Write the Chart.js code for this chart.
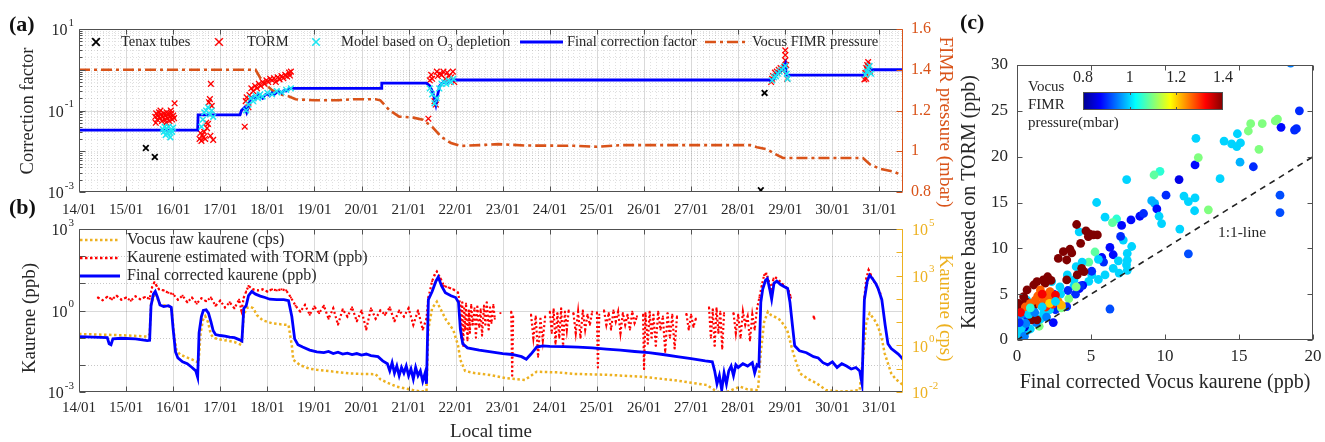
<!DOCTYPE html>
<html>
<head>
<meta charset="utf-8">
<title>Kaurene correction</title>
<script src="https://cdn.jsdelivr.net/npm/chart.js@4.4.1/dist/chart.umd.min.js"></script>
<style>
  body { margin: 0; background: #fff; }
  #wrap { position: relative; width: 1325px; height: 442px; overflow: hidden; background: #fff; }
  canvas { position: absolute; }
  .tag { position: absolute; font: bold 22px "Liberation Serif", serif; line-height: 22px; color: #111; }
</style>
</head>
<body>
<div id="wrap">
  <canvas id="ca" width="965" height="222" style="left:0;top:0"></canvas>
  <canvas id="cb" width="965" height="227" style="left:0;top:215px"></canvas>
  <canvas id="cc" width="375" height="442" style="left:950px;top:0"></canvas>
  <div class="tag" style="left:9px;top:13px">(a)</div>
  <div class="tag" style="left:9px;top:196px">(b)</div>
  <div class="tag" style="left:960px;top:11px">(c)</div>
</div>
<script>
// time axis: days since 14/01 00:00
const dayTicks = [0, 1, 2, 3, 4, 5, 6, 7, 8, 9, 10, 11, 12, 13, 14, 15, 16, 17];
const dayLabels = ['14/01', '15/01', '16/01', '17/01', '18/01', '19/01', '20/01', '21/01', '22/01',
  '23/01', '24/01', '25/01', '26/01', '27/01', '28/01', '29/01', '30/01', '31/01'];

// ---- panel (a) ----
const cfExp = [1, -1, -3];
const presTicks = [0.8, 1.0, 1.2, 1.4, 1.6];
const presLabels = ['0.8', '1', '1.2', '1.4', '1.6'];

const tenaxDay = [1.42, 1.61, 14.56, 14.48];
const tenaxCF = [0.012, 0.0072, 0.27, 0.0011];

const tormDay = [1.62, 1.64, 1.66, 1.68, 1.7, 1.72, 1.74, 1.76, 1.78, 1.8, 1.82, 1.84, 1.86, 1.88, 1.9, 1.92, 1.94, 1.96, 1.98, 2.0, 1.63, 1.73, 1.85, 1.95, 2.02, 2.03,
  2.56, 2.58, 2.6, 2.62, 2.64, 2.66, 2.7, 2.72, 2.74, 2.76, 2.78, 2.8, 2.82, 2.68, 2.79, 2.85,
  3.52, 3.54, 3.56, 3.6, 3.62, 3.66, 3.7, 3.74, 3.78, 3.82, 3.86, 3.9, 3.94, 3.98, 4.02, 4.06, 4.1, 4.14, 4.18, 4.22, 4.26, 4.3, 4.34, 4.38, 4.42, 4.46, 4.48, 4.5,
  7.42, 7.45, 7.5, 7.55, 7.58, 7.62, 7.66, 7.7, 7.74, 7.78, 7.82, 7.86, 7.9, 7.94, 7.97, 7.48, 7.6,
  14.7, 14.74, 14.78, 14.82, 14.86, 14.9, 14.94, 14.98, 15.0, 15.0, 15.0, 15.02, 15.04, 14.72,
  16.68, 16.7, 16.72, 16.74, 16.76, 16.78, 16.8, 16.72];
const tormCF = [0.07, 0.085, 0.06, 0.075, 0.09, 0.065, 0.08, 0.055, 0.07, 0.085, 0.06, 0.075, 0.09, 0.065, 0.08, 0.055, 0.07, 0.085, 0.06, 0.075, 0.05, 0.1, 0.05, 0.1, 0.065, 0.15,
  0.02, 0.028, 0.018, 0.025, 0.022, 0.03, 0.05, 0.037, 0.047, 0.16, 0.19, 0.45, 0.13, 0.02, 0.024, 0.019,
  0.04, 0.17, 0.21, 0.12, 0.24, 0.35, 0.3, 0.4, 0.35, 0.45, 0.4, 0.5, 0.45, 0.55, 0.5, 0.6, 0.55, 0.62, 0.5, 0.65, 0.58, 0.7, 0.62, 0.75, 0.68, 0.85, 0.72, 0.9,
  0.063, 0.55, 0.6, 0.17, 0.14, 0.7, 0.8, 0.75, 0.9, 0.6, 0.85, 0.7, 0.65, 0.9, 0.5, 0.75, 0.9,
  0.5, 0.7, 0.85, 0.9, 1.0, 1.1, 0.95, 1.2, 1.7, 2.3, 3.0, 1.3, 0.6, 0.6,
  0.58, 0.83, 1.1, 1.3, 1.55, 1.2, 0.9, 0.6];

const modelDay = [1.78, 1.8, 1.82, 1.84, 1.86, 1.88, 1.9, 1.92, 1.94, 1.96, 1.98, 2.0,
  2.6, 2.63, 2.66, 2.7, 2.74, 2.78, 2.82, 2.85,
  3.55, 3.6, 3.65, 3.7, 3.75, 3.8, 3.85, 3.9, 4.0, 4.1, 4.2, 4.3, 4.4, 4.5,
  7.45, 7.5, 7.55, 7.6, 7.65, 7.7, 7.75, 7.8, 7.85, 7.9, 7.95,
  14.72, 14.76, 14.8, 14.84, 14.88, 14.92, 14.96, 15.0, 15.03, 15.05,
  16.7, 16.73, 16.76, 16.79, 16.82];
const modelCF = [0.035, 0.03, 0.04, 0.025, 0.035, 0.028, 0.04, 0.03, 0.022, 0.035, 0.03, 0.038,
  0.04, 0.06, 0.09, 0.1, 0.12, 0.08, 0.1, 0.07,
  0.1, 0.14, 0.2, 0.17, 0.23, 0.2, 0.25, 0.22, 0.27, 0.25, 0.3, 0.28, 0.32, 0.35,
  0.35, 0.25, 0.15, 0.2, 0.35, 0.45, 0.5, 0.45, 0.55, 0.5, 0.6,
  0.55, 0.65, 0.7, 0.8, 0.9, 1.0, 1.1, 1.25, 0.8, 0.6,
  0.75, 0.9, 1.1, 1.25, 0.8];

const finalDay = [0, 2.52, 2.53, 3.42, 3.45, 3.52, 3.56, 3.6, 3.65, 3.7, 3.75, 3.8, 3.85, 3.9, 3.95,
  4.0, 4.05, 4.1, 4.15, 4.2, 4.25, 4.3, 4.35, 4.4, 4.45, 4.5, 6.42, 6.43,
  7.38, 7.45, 7.5, 7.55, 7.58, 7.62, 7.66, 7.7, 7.75, 7.8, 7.85, 7.9, 7.95,
  14.7, 14.75, 14.8, 14.85, 14.9, 14.95, 15.0, 15.02, 16.68, 16.72, 16.76, 17.5];
const finalCF = [0.033, 0.033, 0.078, 0.078, 0.1, 0.12, 0.09, 0.13, 0.2, 0.22, 0.19, 0.25, 0.22, 0.2, 0.24,
  0.26, 0.23, 0.27, 0.25, 0.28, 0.3, 0.27, 0.31, 0.3, 0.33, 0.35, 0.35, 0.47,
  0.47, 0.4, 0.3, 0.2, 0.14, 0.25, 0.4, 0.45, 0.5, 0.46, 0.52, 0.55, 0.56,
  0.56, 0.6, 0.72, 0.85, 0.95, 1.05, 1.4, 0.74, 0.74, 0.85, 1.0, 1.0];

const pressDay = [0, 3.75, 3.85, 3.95, 4.1, 4.25, 4.45, 4.6, 5.0, 5.5, 5.8, 6.3, 6.4, 6.6, 6.8, 7.1, 7.3, 7.5, 7.7, 7.9,
  8.1, 8.5, 8.9, 9.5, 10.5, 11.0, 11.5, 12.5, 13.5, 14.25, 14.4, 14.6, 14.8, 14.95, 16.65, 16.8, 17.0, 17.3, 17.5];
const pressVal = [1.4, 1.4, 1.36, 1.33, 1.3, 1.28, 1.27, 1.255, 1.25, 1.25, 1.255, 1.255, 1.25, 1.2, 1.17, 1.165, 1.155, 1.12, 1.07, 1.04,
  1.026, 1.03, 1.035, 1.028, 1.027, 1.022, 1.03, 1.03, 1.03, 1.03, 1.02, 1.01, 0.985, 0.967, 0.967, 0.935, 0.915, 0.9, 0.88];

// ---- panel (b) ----
const ppbExp = [3, 0, -3];
const cpsExp = [5, 3, 0, -2];

const rawDay = [0, 0.5, 1.0, 1.45, 1.5, 1.53, 1.6, 1.65, 1.72, 1.85,
  1.96, 2.02, 2.07, 2.15, 2.25, 2.4, 2.5, 2.54, 2.58, 2.63,
  2.68, 2.74, 2.8, 2.86, 3.0, 3.15, 3.3, 3.45, 3.5, 3.56,
  3.63, 3.7, 3.78, 3.9, 4.1, 4.3, 4.45, 4.52, 4.55, 4.7,
  4.9, 5.05, 5.4, 5.75, 6.0, 6.3, 6.4, 6.55, 6.75, 6.95,
  7.1, 7.25, 7.38, 7.42, 7.5, 7.6, 7.7, 7.8, 7.95, 8.05,
  8.1, 8.2, 8.4, 8.73, 9.08, 9.47, 9.6, 9.72, 10.14, 10.5,
  11.2, 11.9, 12.6, 13.33, 13.5, 13.6, 13.7, 14.04, 14.2, 14.42,
  14.48, 14.55, 14.63, 14.7, 14.8, 14.9, 15.04, 15.17, 15.31, 15.5,
  15.66, 15.87, 16.16, 16.4, 16.58, 16.65, 16.72, 16.79, 16.9, 16.97,
  17.05, 17.11, 17.25, 17.35, 17.45, 17.5];
const rawCps = [3.1, 2.9, 2.7, 2.4, 3, 60, 140, 120, 60, 50,
  45, 3, 0.6, 0.4, 0.33, 0.25, 0.2, 0.18, 3, 12,
  18, 10, 3, 2.1, 1.8, 1.6, 1.4, 1.05, 20, 40,
  46, 40, 20, 12, 9, 8, 7.5, 1, 0.24, 0.14,
  0.1, 0.09, 0.075, 0.063, 0.06, 0.058, 0.035, 0.025, 0.017, 0.014,
  0.012, 0.0105, 0.011, 5, 40, 76, 30, 12, 4.6, 1,
  0.24, 0.08, 0.065, 0.054, 0.039, 0.033, 0.05, 0.074, 0.07, 0.06,
  0.055, 0.046, 0.033, 0.02, 0.012, 0.0095, 0.009, 0.017, 0.013, 0.012,
  0.5, 10, 28, 20, 16, 12, 4.6, 0.46, 0.063, 0.035,
  0.024, 0.012, 0.0105, 0.011, 0.012, 0.3, 10, 24, 12, 6.5,
  2, 0.46, 0.063, 0.035, 0.024, 0.02];

const tormKDay = [0.4, 0.5, 0.6, 0.7, 0.8, 0.9, 1.0, 1.1, 1.2, 1.3,
  1.4, 1.5, 1.55, 1.6, 1.65, 1.7, 1.8, 1.9, 2.0, 2.1,
  2.2, 2.3, 2.4, 2.5, 2.6, 2.7, 2.8, 2.9, 3.0, 3.1,
  3.2, 3.3, 3.4, 3.45, 3.5, 3.55, 3.6, 3.7, 3.8, 3.9,
  4.0, 4.1, 4.2, 4.3, 4.4, 4.5, 4.6, 4.7, 4.8, 4.9,
  5.0, 5.1, 5.2, 5.3, 5.4, 5.5, 5.6, 5.7, 5.8, 5.9,
  6.0, 6.1, 6.2, 6.3, 6.4, 6.5, 6.6, 6.7, 6.8, 6.9,
  7.0, 7.1, 7.2, 7.3, 7.38, 7.42, 7.5, 7.55, 7.6, 7.68,
  7.75, 7.85, 7.95, 8.05, 8.1, 8.12, 8.14, 8.16, 8.18, 8.2,
  8.22, 8.25, 8.28, 8.3, 8.33, 8.36, 8.4, 8.43, 8.46, 8.5,
  8.53, 8.56, 8.6, 8.63, 8.66, 8.7, 8.73, 8.76, 8.8, 8.83,
  8.88, 8.95, 9.0, 9.18, 9.2, 9.22, 9.3, 9.6, 9.65, 9.7,
  9.75, 9.8, 9.85, 9.9, 9.95, 10.0, 10.04, 10.08, 10.12, 10.16,
  10.2, 10.24, 10.28, 10.32, 10.36, 10.4, 10.45, 10.5, 10.55, 10.6,
  10.65, 10.7, 10.75, 10.8, 10.85, 10.9, 10.95, 11.0, 11.02, 11.05,
  11.1, 11.15, 11.2, 11.25, 11.3, 11.35, 11.4, 11.45, 11.5, 11.55,
  11.6, 11.65, 11.7, 11.75, 11.8, 11.85, 11.92, 11.98, 12.0, 12.03,
  12.08, 12.12, 12.16, 12.2, 12.25, 12.3, 12.35, 12.4, 12.45, 12.5,
  12.55, 12.6, 12.65, 12.7, 12.8, 12.9, 12.95, 13.0, 13.05, 13.1,
  13.2, 13.38, 13.42, 13.46, 13.5, 13.54, 13.58, 13.62, 13.66, 13.7,
  13.8, 13.9, 13.95, 14.0, 14.05, 14.1, 14.15, 14.2, 14.25, 14.3,
  14.35, 14.4, 14.45, 14.5, 14.55, 14.6, 14.65, 14.7, 14.75, 14.8,
  14.88, 14.95, 15.02, 15.08, 15.12, 15.15, 15.58, 15.6, 15.62, 15.64,
  16.68, 16.72, 16.77, 16.82, 16.88, 16.95, 17.02, 17.05];
const tormKppb = [3.0, 2.4, 3.2, 2.6, 3.5, 2.5, 3.0, 2.3, 3.3, 2.6,
  3.1, 2.7, 7, 11, 8, 6, 5.5, 4.5, 4.0, 2.5,
  3.5, 2.0, 3.0, 1.8, 2.8, 2.2, 3.0, 1.5, 2.3, 1.3,
  2.0, 1.2, 2.5, 1.0, 3.0, 5, 8, 6, 5.5, 6,
  5, 6, 5.5, 6, 5.5, 3, 1.5, 0.9, 1.6, 0.7,
  1.4, 0.8, 1.5, 0.5, 1.2, 0.3, 1.1, 0.6, 1.3, 0.4,
  1.0, 0.2, 1.2, 0.5, 1.0, 0.7, 1.3, 0.4, 1.0, 0.6,
  1.2, 0.3, 1.0, 0.2, 0.5, 3, 12, 20, 27, 15,
  8, 7, 6, 4.5, 1.5, 0.1, 2.0, 0.05, 1.2, 0.2,
  1.8, 0.08, 1.0, 0.15, 1.6, 0.3, 1.2, 0.1, 1.4, 0.25,
  1.1, 0.12, 1.5, 0.3, 2.0, 0.2, 1.3, 0.35, 1.6, 0.5,
  null, 0.8, null, 0.9, 0.004, 0.6, null, 0.7, 0.1, 0.6,
  0.02, 0.5, 0.08, 0.6, null, 0.9, 0.15, 1.1, 0.06, 0.8,
  0.1, 1.2, 0.05, 0.9, 0.2, 1.0, null, 0.8, 0.15, 0.9,
  0.1, 1.0, 0.2, 0.7, 0.3, 0.9, null, 0.85, 0.008, 0.7,
  null, 1.0, 0.3, 0.8, 0.2, 1.0, 0.4, 0.9, 0.15, 0.8,
  0.3, 0.7, 0.2, 0.9, 0.35, 0.6, null, 0.7, 0.007, 0.8,
  0.06, 0.9, 0.1, 0.7, 0.05, 0.9, 0.2, 0.6, 0.03, 0.8,
  0.1, 0.7, 0.04, 0.6, null, 0.75, 0.2, 0.7, 0.25, 0.5,
  null, 1.3, 0.1, 1.1, 0.05, 1.2, 0.15, 0.9, 0.04, 0.8,
  null, 0.8, 0.15, 0.7, 0.1, 0.9, 0.3, 0.6, 0.08, 0.7,
  0.2, 1.2, 3, 8, 20, 23, 12, 6, 15, 16,
  12, 9, 7, 5, 3, null, null, 0.6, 0.5, null,
  3, 15, 31, 20, 12, 8, 4.2, null];

const corrKDay = [0, 0.3, 0.6, 0.64, 0.68, 0.72, 0.9, 1.2, 1.45, 1.5,
  1.53, 1.58, 1.62, 1.67, 1.72, 1.8, 1.9, 1.96, 2.0, 2.05,
  2.1, 2.2, 2.3, 2.4, 2.48, 2.52, 2.55, 2.6, 2.64, 2.7,
  2.75, 2.8, 2.85, 2.9, 3.0, 3.1, 3.2, 3.3, 3.4, 3.46,
  3.5, 3.55, 3.6, 3.67, 3.75, 3.85, 3.95, 4.05, 4.2, 4.35,
  4.45, 4.52, 4.58, 4.65, 4.75, 4.9, 5.05, 5.2, 5.3, 5.4,
  5.5, 5.6, 5.7, 5.8, 5.9, 6.0, 6.1, 6.2, 6.35, 6.45,
  6.55, 6.6, 6.65, 6.7, 6.75, 6.8, 6.85, 6.9, 6.95, 7.0,
  7.05, 7.1, 7.15, 7.2, 7.25, 7.3, 7.35, 7.38, 7.42, 7.5,
  7.58, 7.63, 7.7, 7.78, 7.9, 8.0, 8.06, 8.1, 8.15, 8.25,
  8.5, 8.75, 9.0, 9.2, 9.4, 9.5, 9.6, 9.72, 9.85, 10.0,
  10.3, 10.6, 10.9, 11.2, 11.5, 11.8, 12.1, 12.4, 12.7, 13.0,
  13.3, 13.45, 13.5, 13.55, 13.6, 13.65, 13.7, 13.75, 13.8, 13.85,
  13.9, 13.95, 14.0, 14.1, 14.2, 14.3, 14.35, 14.4, 14.44, 14.48,
  14.52, 14.58, 14.62, 14.67, 14.71, 14.76, 14.82, 14.9, 14.98, 15.05,
  15.1, 15.15, 15.2, 15.3, 15.45, 15.6, 15.7, 15.8, 15.9, 16.0,
  16.1, 16.2, 16.3, 16.4, 16.5, 16.58, 16.63, 16.68, 16.74, 16.79,
  16.85, 16.92, 16.97, 17.05, 17.12, 17.18, 17.25, 17.32, 17.4, 17.45,
  17.5];
const corrKppb = [0.11, 0.105, 0.1, 0.06, 0.055, 0.09, 0.095, 0.09, 0.078, 0.08,
  1.5, 4.0, 5.0, 3.0, 1.6, 1.4, 1.5, 1.3, 0.2, 0.03,
  0.018, 0.013, 0.011, 0.008, 0.006, 0.0035, 0.15, 0.6, 1.0, 1.05,
  0.8, 0.4, 0.18, 0.13, 0.12, 0.115, 0.105, 0.1, 0.085, 0.075,
  1.2, 1.5, 3.5, 5.0, 4.0, 3.4, 3.0, 2.6, 2.5, 2.5,
  2.3, 0.6, 0.09, 0.055, 0.045, 0.035, 0.03, 0.028, 0.031, 0.026,
  0.029, 0.025, 0.027, 0.024, 0.026, 0.023, 0.025, 0.022, 0.02, 0.014,
  0.011, 0.006, 0.012, 0.005, 0.009, 0.004, 0.008, 0.005, 0.009, 0.004,
  0.007, 0.003, 0.008, 0.004, 0.006, 0.0025, 0.005, 0.002, 2.5, 5.0,
  12, 17, 8, 4.5, 3.5, 3.0, 2.0, 0.2, 0.06, 0.042,
  0.035, 0.03, 0.026, 0.024, 0.02, 0.016, 0.025, 0.045, 0.05, 0.048,
  0.047, 0.045, 0.042, 0.038, 0.035, 0.031, 0.028, 0.024, 0.02, 0.017,
  0.014, 0.013, 0.006, 0.002, 0.004, 0.0012, 0.005, 0.002, 0.006, 0.009,
  0.004, 0.01, 0.008, 0.011, 0.009, 0.012, 0.005, 0.01, 0.009, 2.0,
  6.0, 13, 15, 6, 2.6, 10, 12, 9, 7.5, 6.5,
  2.0, 0.3, 0.05, 0.033, 0.028, 0.02, 0.018, 0.012, 0.01, 0.013,
  0.008, 0.011, 0.009, 0.007, 0.008, 0.006, 0.002, 2.5, 12, 20,
  15, 10, 6.5, 2.5, 0.3, 0.06, 0.04, 0.032, 0.025, 0.02,
  0.016];

// ---- panel (c) ----
const scXTicks = [0, 5, 10, 15, 20];
const scYTicks = [0, 5, 10, 15, 20, 25, 30];
const cbTicks = [0.8, 1.0, 1.2, 1.4];
const cbLabels = ['0.8', '1', '1.2', '1.4'];
const oneX = [0, 20];
const oneY = [0, 20];

const scX = [18.49, 19.08, 17.84, 18.75, 18.88, 17.45, 17.6, 16.57, 15.79, 15.63,
  16.35, 14.89, 13.99, 14.5, 14.85, 15.1, 15.07, 15.97, 13.72, 17.77,
  17.77, 12.09, 12.03, 12.25, 10.95, 9.66, 9.26, 7.41, 10.07, 11.28,
  11.58, 12.03, 12.0, 12.93, 9.1, 9.3, 9.45, 9.6, 5.38, 5.95,
  6.73, 7.7, 8.3, 8.55, 11.58, 11.0, 9.77, 7.07, 6.45, 7.18,
  7.0, 7.75, 6.28, 6.5, 5.73, 5.85, 5.27, 5.5, 7.45, 7.45,
  6.85, 7.4, 6.5, 6.9, 7.45, 5.95, 5.5, 5.05, 4.85, 6.28,
  4.85, 5.05, 4.44, 4.2, 4.3, 3.85, 3.95, 3.5, 3.44, 2.94,
  2.48, 2.45, 3.36, 2.6, 2.2, 1.8, 1.1, 0.4, 1.0, 0.7,
  0.4, 0.2, 0.2, 0.2, 0.3, 0.05, 0.1, 0.66, 3.85, 2.9,
  2.34, 3.4, 4.0, 4.4, 4.2, 4.0, 3.0, 1.5, 0.6, 0.9,
  1.3, 1.6, 2.0, 0.3, 0.15, 0.5, 1.2,
  4.03, 4.66, 4.89, 5.16, 5.43, 4.82, 4.3, 3.58, 3.13, 2.79,
  3.36, 4.37, 4.53, 4.07, 3.36, 2.07, 1.78, 1.35, 1.13, 0.68,
  0.45, 0.11, 0.0, 1.13, 0.99, 1.35, 0.3, 0.6, 2.3, 1.9, 3.7,
  1.58, 2.23, 2.0, 2.45, 1.24, 1.58, 0.9, 0.56, 2.79, 3.0,
  1.8, 2.1, 1.4, 2.4, 1.95, 1.7, 0.25, 2.6, 2.2,
  0.1, 0.3, 0.6, 0.8, 0.15, 0.5, 1.7, 2.6, 1.2, 0.9];
const scY = [30.2, 25.0, 23.2, 22.9, 23.05, 23.9, 24.1, 23.6, 23.6, 22.8,
  20.8, 22.5, 21.7, 21.4, 21.1, 21.5, 19.4, 18.9, 17.6, 15.8,
  13.9, 22.0, 19.1, 19.9, 17.5, 18.4, 18.0, 17.5, 15.8, 15.7,
  15.1, 15.5, 14.1, 14.2, 15.2, 14.9, 14.3, 13.5, 15.0, 13.4,
  13.2, 13.1, 13.5, 13.8, 9.4, 12.1, 12.7, 12.5, 12.8, 10.9,
  11.3, 10.2, 10.1, 9.3, 9.0, 8.5, 9.6, 8.8, 9.45, 8.7,
  8.64, 8.2, 7.82, 7.3, 7.6, 7.1, 6.6, 7.1, 6.4, 3.38,
  8.5, 7.5, 5.97, 5.6, 5.9, 5.9, 5.0, 4.5, 5.4, 5.0,
  5.0, 1.9, 3.64, 3.3, 3.3, 2.9, 3.3, 3.3, 2.6, 2.2,
  1.8, 1.1, 1.5, 0.7, 0.2, 0.2, 2.2, 4.36, 6.55, 5.8,
  6.37, 7.1, 8.0, 8.5, 11.8, 5.8, 3.5, 1.5, 0.9, 1.2,
  1.9, 2.3, 2.5, 2.8, 0.5, 1.4, 2.5,
  12.6, 11.9, 11.57, 11.46, 11.46, 11.28, 10.55, 9.9, 9.64, 8.9,
  8.73, 7.82, 7.46, 7.1, 6.55, 6.9, 6.55, 6.37, 6.0, 5.46,
  4.73, 4.0, 3.27, 3.8, 2.2, 2.2, 3.6, 4.2, 6.5, 6.2, 9.5,
  5.46, 5.28, 4.73, 4.55, 4.36, 3.83, 4.0, 3.6, 4.2, 3.8,
  4.2, 5.0, 4.8, 3.9, 3.6, 5.0, 3.0, 4.9, 4.0,
  0.5, 1.3, 1.8, 2.8, 1.9, 0.4, 3.6, 4.2, 3.0, 3.5];
const scP = [0.95, 0.9, 0.88, 0.9, 0.9, 1.1, 1.1, 1.1, 1.1, 1.1,
  1.1, 1.0, 1.0, 1.0, 1.0, 1.0, 0.98, 0.9, 1.0, 0.92,
  0.92, 1.0, 0.88, 1.1, 0.86, 1.05, 1.08, 1.0, 0.9, 1.0,
  1.0, 1.0, 1.0, 1.1, 0.98, 0.98, 0.88, 1.0, 1.0, 1.0,
  1.05, 0.88, 0.88, 0.9, 0.92, 1.0, 1.0, 0.88, 1.08, 1.0,
  0.9, 1.0, 0.88, 0.88, 0.88, 0.9, 1.08, 1.0, 1.0, 1.0,
  1.0, 1.0, 1.0, 1.0, 1.0, 1.0, 1.0, 1.0, 1.0, 0.92,
  1.08, 0.9, 0.88, 0.88, 0.9, 1.0, 0.9, 1.1, 0.9, 1.0,
  0.9, 0.88, 0.9, 0.9, 1.0, 1.0, 1.0, 1.0, 1.0, 0.9,
  1.0, 1.0, 0.9, 0.9, 1.0, 0.9, 1.0, 1.0, 1.0, 1.0,
  1.0, 1.0, 1.0, 1.0, 1.0, 1.1, 1.1, 1.1, 1.0, 1.0,
  0.95, 1.0, 0.95, 0.95, 0.95, 0.85, 1.0,
  1.4, 1.4, 1.4, 1.4, 1.4, 1.4, 1.4, 1.4, 1.4, 1.4,
  1.4, 1.4, 1.4, 1.4, 1.4, 1.4, 1.4, 1.4, 1.4, 1.4,
  1.4, 1.4, 1.4, 1.4, 1.4, 1.4, 1.4, 1.4, 1.4, 1.4, 1.4,
  1.27, 1.27, 1.27, 1.27, 1.27, 1.27, 1.27, 1.27, 1.25, 1.22,
  1.27, 1.27, 1.27, 1.3, 1.3, 1.33, 1.33, 1.33, 1.2,
  1.0, 1.0, 0.95, 1.0, 0.9, 0.95, 1.0, 1.0, 0.95, 1.05];

// ---- helpers ----
const SERIF = '"Liberation Serif", "Times New Roman", serif';
const INK = '#262626';
const GREY = '#505050';
const ORANGE = '#D95319';
const GOLD = '#EDB120';
const CYAN = '#1EE6F2';
Chart.defaults.font.family = SERIF;

function pts(xs, ys) {
  return xs.map((x, i) => ({ x: x, y: ys[i] }));
}

function seg(ctx, x1, y1, x2, y2) {
  ctx.beginPath();
  ctx.moveTo(x1, y1);
  ctx.lineTo(x2, y2);
  ctx.stroke();
}

function text(ctx, s, x, y, size, opt) {
  opt = opt || {};
  ctx.save();
  ctx.font = size + 'px ' + SERIF;
  ctx.fillStyle = opt.color || INK;
  ctx.textAlign = opt.align || 'center';
  ctx.textBaseline = 'middle';
  ctx.translate(x, y);
  if (opt.rot) ctx.rotate(opt.rot);
  ctx.fillText(s, 0, 0);
  ctx.restore();
}

// "10" with a raised exponent
function power(ctx, e, x, y, align, color) {
  ctx.save();
  ctx.fillStyle = color;
  ctx.textBaseline = 'middle';
  ctx.textAlign = 'left';
  ctx.font = '16px ' + SERIF;
  const w1 = ctx.measureText('10').width;
  ctx.font = '11px ' + SERIF;
  const es = String(e);
  const w2 = ctx.measureText(es).width;
  const x0 = align === 'right' ? x - w1 - w2 - 1 : x;
  ctx.font = '16px ' + SERIF;
  ctx.fillText('10', x0, y + 2);
  ctx.font = '11px ' + SERIF;
  ctx.fillText(es, x0 + w1 + 1, y - 6);
  ctx.restore();
}

function xMark(ctx, cx, cy, r, color, w) {
  ctx.save();
  ctx.strokeStyle = color;
  ctx.lineWidth = w;
  seg(ctx, cx - r, cy - r, cx + r, cy + r);
  seg(ctx, cx - r, cy + r, cx + r, cy - r);
  ctx.restore();
}

function legLine(ctx, x1, x2, y, color, w, dash) {
  ctx.save();
  ctx.strokeStyle = color;
  ctx.lineWidth = w;
  ctx.setLineDash(dash || []);
  seg(ctx, x1, y, x2, y);
  ctx.restore();
}

// jet colour map
const JET = [[0, [0, 0, 143]], [0.125, [0, 0, 255]], [0.375, [0, 255, 255]], [0.625, [255, 255, 0]], [0.875, [255, 0, 0]], [1, [128, 0, 0]]];
function jet(t) {
  t = Math.max(0, Math.min(1, t));
  for (let i = 1; i < JET.length; i++) {
    if (t <= JET[i][0]) {
      const t0 = JET[i - 1][0], c0 = JET[i - 1][1], t1 = JET[i][0], c1 = JET[i][1];
      const f = (t - t0) / (t1 - t0);
      return 'rgb(' + c0.map((c, k) => Math.round(c + (c1[k] - c) * f)).join(',') + ')';
    }
  }
  return 'rgb(128,0,0)';
}

function hidden(extra) {
  return Object.assign({ ticks: { display: false }, grid: { display: false }, border: { display: false } }, extra);
}

// ---- (a) decorations ----
const decoA = {
  id: 'decoA',
  beforeDatasetsDraw(chart) {
    const { ctx, chartArea: a } = chart;
    const x = chart.scales.x, y = chart.scales.y;
    ctx.save();
    ctx.lineWidth = 1;
    ctx.setLineDash([1, 2]);
    ctx.strokeStyle = 'rgba(0,0,0,0.12)';
    for (let d = 0.125; d < 17.5; d += 0.125) {
      if (Math.abs(d - Math.round(d)) < 1e-6) continue;
      const px = Math.round(x.getPixelForValue(d)) + 0.5;
      seg(ctx, px, a.top, px, a.bottom);
    }
    for (let e = -3; e <= 0; e++) {
      for (let m = 1; m <= 9; m++) {
        if (m === 1 && (e === -3 || e === -1)) continue;
        const py = Math.round(y.getPixelForValue(m * Math.pow(10, e))) + 0.5;
        seg(ctx, a.left, py, a.right, py);
      }
    }
    ctx.setLineDash([]);
    ctx.strokeStyle = 'rgba(0,0,0,0.15)';
    dayTicks.forEach(d => {
      const px = Math.round(x.getPixelForValue(d)) + 0.5;
      seg(ctx, px, a.top, px, a.bottom);
    });
    const py = Math.round(y.getPixelForValue(0.1)) + 0.5;
    seg(ctx, a.left, py, a.right, py);
    ctx.restore();
  },
  afterDraw(chart) {
    const { ctx, chartArea: a } = chart;
    const x = chart.scales.x, y = chart.scales.y, y2 = chart.scales.y2;
    const L = Math.round(a.left) + 0.5, R = Math.round(a.right) - 0.5;
    const T = Math.round(a.top) + 0.5, B = Math.round(a.bottom) - 0.5;
    ctx.save();
    ctx.lineWidth = 1;
    ctx.strokeStyle = GREY;
    seg(ctx, L, T, R, T);
    seg(ctx, L, T, L, B);
    seg(ctx, L, B, R, B);
    dayTicks.forEach(d => {
      const px = Math.round(x.getPixelForValue(d)) + 0.5;
      seg(ctx, px, B, px, B - 5);
      seg(ctx, px, T, px, T + 5);
    });
    for (let e = -3; e <= 0; e++) {
      for (let m = 1; m <= 9; m++) {
        const py = Math.round(y.getPixelForValue(m * Math.pow(10, e))) + 0.5;
        seg(ctx, L, py, L + (m === 1 ? 6 : 3), py);
      }
    }
    ctx.strokeStyle = ORANGE;
    seg(ctx, R, T, R, B);
    presTicks.forEach(v => {
      const py = Math.round(y2.getPixelForValue(v)) + 0.5;
      seg(ctx, R, py, R - 6, py);
    });
    ctx.restore();

    dayTicks.forEach((d, i) => text(ctx, dayLabels[i], x.getPixelForValue(d), 210, 15));
    cfExp.forEach(e => power(ctx, e, 74, y.getPixelForValue(Math.pow(10, e)), 'right', INK));
    presTicks.forEach((v, i) => text(ctx, presLabels[i], 911, y2.getPixelForValue(v), 16, { align: 'left', color: ORANGE }));
    text(ctx, 'Correction factor', 28, 111, 18.5, { rot: -Math.PI / 2 });
    text(ctx, 'FIMR pressure (mbar)', 945, 122, 19, { rot: Math.PI / 2, color: ORANGE });

    // legend row
    const ly = 42, fs = 14.5;
    xMark(ctx, 96, ly, 3.8, '#000', 1.8);
    text(ctx, 'Tenax tubes', 121, ly, fs, { align: 'left' });
    xMark(ctx, 219, ly, 3.8, '#ff0000', 1.4);
    text(ctx, 'TORM', 247, ly, fs, { align: 'left' });
    xMark(ctx, 316, ly, 3.8, CYAN, 1.6);
    ctx.save();
    ctx.font = fs + 'px ' + SERIF;
    const w1 = ctx.measureText('Model based on O').width;
    ctx.font = '10px ' + SERIF;
    const w2 = ctx.measureText('3').width;
    ctx.restore();
    text(ctx, 'Model based on O', 341, ly, fs, { align: 'left' });
    text(ctx, '3', 341 + w1, ly + 6, 10, { align: 'left' });
    text(ctx, ' depletion', 341 + w1 + w2, ly, fs, { align: 'left' });
    legLine(ctx, 520, 563, ly, '#0000ff', 3);
    text(ctx, 'Final correction factor', 567, ly, fs, { align: 'left' });
    legLine(ctx, 705, 748, ly, ORANGE, 2.6, [11, 4, 3, 4]);
    text(ctx, 'Vocus FIMR pressure', 752, ly, fs, { align: 'left' });
  }
};

// ---- (b) decorations ----
const decoB = {
  id: 'decoB',
  beforeDatasetsDraw(chart) {
    const { ctx, chartArea: a } = chart;
    const x = chart.scales.x, y = chart.scales.y;
    ctx.save();
    ctx.lineWidth = 1;
    ctx.strokeStyle = 'rgba(0,0,0,0.14)';
    dayTicks.forEach(d => {
      const px = Math.round(x.getPixelForValue(d)) + 0.5;
      seg(ctx, px, a.top, px, a.bottom);
    });
    for (let e = -2; e <= 2; e++) {
      const py = Math.round(y.getPixelForValue(Math.pow(10, e))) + 0.5;
      ctx.setLineDash(e === 0 ? [] : [1, 2]);
      ctx.strokeStyle = e === 0 ? 'rgba(0,0,0,0.15)' : 'rgba(0,0,0,0.22)';
      seg(ctx, a.left, py, a.right, py);
    }
    ctx.restore();
  },
  afterDraw(chart) {
    const { ctx, chartArea: a } = chart;
    const x = chart.scales.x, y = chart.scales.y, y2 = chart.scales.y2;
    const L = Math.round(a.left) + 0.5, R = Math.round(a.right) - 0.5;
    const T = Math.round(a.top) + 0.5, B = Math.round(a.bottom) - 0.5;
    ctx.save();
    ctx.lineWidth = 1;
    ctx.strokeStyle = GREY;
    seg(ctx, L, T, R, T);
    seg(ctx, L, T, L, B);
    seg(ctx, L, B, R, B);
    dayTicks.forEach(d => {
      const px = Math.round(x.getPixelForValue(d)) + 0.5;
      seg(ctx, px, B, px, B - 5);
      seg(ctx, px, T, px, T + 5);
    });
    for (let e = -3; e <= 3; e++) {
      const py = Math.round(y.getPixelForValue(Math.pow(10, e))) + 0.5;
      seg(ctx, L, py, L + 6, py);
    }
    ctx.strokeStyle = GOLD;
    seg(ctx, R, T, R, B);
    for (let e = -2; e <= 5; e++) {
      const py = Math.round(y2.getPixelForValue(Math.pow(10, e))) + 0.5;
      seg(ctx, R, py, R - 6, py);
    }
    ctx.restore();

    dayTicks.forEach((d, i) => text(ctx, dayLabels[i], x.getPixelForValue(d), 193, 15));
    ppbExp.forEach(e => power(ctx, e, 74, y.getPixelForValue(Math.pow(10, e)), 'right', INK));
    cpsExp.forEach(e => power(ctx, e, 912, y2.getPixelForValue(Math.pow(10, e)), 'left', GOLD));
    text(ctx, 'Kaurene (ppb)', 30, 103, 19, { rot: -Math.PI / 2 });
    text(ctx, 'Kaurene (cps)', 945, 93, 19, { rot: Math.PI / 2, color: GOLD });
    text(ctx, 'Local time', 491, 217, 19);

    // legend column
    const fs = 16;
    legLine(ctx, 80, 120, 25, GOLD, 2.5, [2.5, 2.5]);
    text(ctx, 'Vocus raw kaurene (cps)', 127, 25, fs, { align: 'left' });
    legLine(ctx, 80, 120, 43, '#ff0000', 2.5, [2.5, 2.5]);
    text(ctx, 'Kaurene estimated with TORM (ppb)', 127, 43, fs, { align: 'left' });
    legLine(ctx, 80, 120, 61, '#0000ff', 3);
    text(ctx, 'Final corrected kaurene (ppb)', 127, 61, fs, { align: 'left' });
  }
};

// ---- (c) decorations ----
const decoC = {
  id: 'decoC',
  afterDraw(chart) {
    const { ctx, chartArea: a } = chart;
    const x = chart.scales.x, y = chart.scales.y;
    const L = Math.round(a.left) + 0.5, R = Math.round(a.right) - 0.5;
    const T = Math.round(a.top) + 0.5, B = Math.round(a.bottom) - 0.5;
    ctx.save();
    ctx.lineWidth = 1;
    ctx.strokeStyle = GREY;
    ctx.strokeRect(L, T, R - L, B - T);
    scXTicks.forEach(v => {
      const px = Math.round(x.getPixelForValue(v)) + 0.5;
      seg(ctx, px, B, px, B - 5);
      seg(ctx, px, T, px, T + 5);
    });
    scYTicks.forEach(v => {
      const py = Math.round(y.getPixelForValue(v)) + 0.5;
      seg(ctx, L, py, L + 5, py);
      seg(ctx, R, py, R - 5, py);
    });
    ctx.restore();

    scXTicks.forEach(v => text(ctx, String(v), x.getPixelForValue(v), 357, 17));
    scYTicks.forEach(v => text(ctx, String(v), 58, y.getPixelForValue(v), 17, { align: 'right' }));
    text(ctx, 'Kaurene based on TORM (ppb)', 20, 202, 20, { rot: -Math.PI / 2 });
    text(ctx, 'Final corrected Vocus kaurene (ppb)', 215, 383, 20);
    text(ctx, '1:1-line', 292, 233, 15.5);

    // colour bar
    const cx0 = 133, cx1 = 273, cy0 = 92, cy1 = 110;
    const g = ctx.createLinearGradient(cx0, 0, cx1, 0);
    JET.forEach(s => g.addColorStop(s[0], 'rgb(' + s[1].join(',') + ')'));
    ctx.save();
    ctx.fillStyle = g;
    ctx.fillRect(cx0, cy0, cx1 - cx0, cy1 - cy0);
    ctx.strokeStyle = GREY;
    ctx.lineWidth = 1;
    ctx.strokeRect(cx0 + 0.5, cy0 + 0.5, cx1 - cx0 - 1, cy1 - cy0 - 1);
    cbTicks.forEach((v, i) => {
      const px = cx0 + (v - 0.8) / 0.6 * (cx1 - cx0);
      if (i > 0 && i < cbTicks.length - 1) {
        seg(ctx, Math.round(px) + 0.5, cy0, Math.round(px) + 0.5, cy0 + 3);
        seg(ctx, Math.round(px) + 0.5, cy1, Math.round(px) + 0.5, cy1 - 3);
      }
      text(ctx, cbLabels[i], px, 78, 16);
    });
    ctx.restore();
    text(ctx, 'Vocus', 78, 87, 15, { align: 'left' });
    text(ctx, 'FIMR', 78, 105, 15, { align: 'left' });
    text(ctx, 'pressure(mbar)', 78, 123, 15, { align: 'left' });
  }
};

// ---- charts ----
new Chart(document.getElementById('ca'), {
  type: 'line',
  data: {
    datasets: [
      { label: 'Tenax tubes', data: pts(tenaxDay, tenaxCF), showLine: false, pointStyle: 'crossRot', pointRadius: 4,
        borderColor: '#000', pointBorderColor: '#000', pointBorderWidth: 1.8, order: 0 },
      { label: 'Model based on O3 depletion', data: pts(modelDay, modelCF), showLine: false, pointStyle: 'crossRot', pointRadius: 4,
        borderColor: CYAN, pointBorderColor: CYAN, pointBorderWidth: 1.5, order: 1 },
      { label: 'Final correction factor', data: pts(finalDay, finalCF), borderColor: '#0000ff', borderWidth: 2.8,
        pointRadius: 0, order: 2 },
      { label: 'TORM', data: pts(tormDay, tormCF), showLine: false, pointStyle: 'crossRot', pointRadius: 4,
        borderColor: '#ff0000', pointBorderColor: '#ff0000', pointBorderWidth: 1.3, order: 3 },
      { label: 'Vocus FIMR pressure', data: pts(pressDay, pressVal), yAxisID: 'y2', borderColor: ORANGE, borderWidth: 2.6,
        borderDash: [11, 4, 3, 4], pointRadius: 0, order: 4 }
    ]
  },
  options: {
    responsive: false, animation: false, events: [],
    layout: { padding: { top: 29, left: 0, right: 0, bottom: 0 } },
    plugins: { legend: { display: false }, tooltip: { enabled: false } },
    scales: {
      x: hidden({ type: 'linear', min: 0, max: 17.5, afterFit: s => { s.height = 30; } }),
      y: hidden({ type: 'logarithmic', min: 1e-3, max: 10, position: 'left', afterFit: s => { s.width = 79; } }),
      y2: hidden({ type: 'linear', min: 0.8, max: 1.6, position: 'right', afterFit: s => { s.width = 62; } })
    }
  },
  plugins: [decoA]
});

new Chart(document.getElementById('cb'), {
  type: 'line',
  data: {
    datasets: [
      { label: 'Final corrected kaurene (ppb)', data: pts(corrKDay, corrKppb), borderColor: '#0000ff', borderWidth: 2.8,
        pointRadius: 0, order: 0 },
      { label: 'Kaurene estimated with TORM (ppb)', data: pts(tormKDay, tormKppb), borderColor: '#ff0000', borderWidth: 2.2,
        borderDash: [2, 2.5], pointRadius: 1.3, pointStyle: 'rect', pointBackgroundColor: '#ff0000', pointBorderWidth: 0,
        spanGaps: false, order: 1 },
      { label: 'Vocus raw kaurene (cps)', data: pts(rawDay, rawCps), yAxisID: 'y2', borderColor: GOLD, borderWidth: 2.5,
        borderDash: [2.5, 2.5], pointRadius: 0, order: 2 }
    ]
  },
  options: {
    responsive: false, animation: false, events: [],
    layout: { padding: { top: 14, left: 0, right: 0, bottom: 0 } },
    plugins: { legend: { display: false }, tooltip: { enabled: false } },
    scales: {
      x: hidden({ type: 'linear', min: 0, max: 17.5, afterFit: s => { s.height = 50; } }),
      y: hidden({ type: 'logarithmic', min: 1e-3, max: 1e3, position: 'left', afterFit: s => { s.width = 79; } }),
      y2: hidden({ type: 'logarithmic', min: 1e-2, max: 1e5, position: 'right', afterFit: s => { s.width = 62; } })
    }
  },
  plugins: [decoB]
});

new Chart(document.getElementById('cc'), {
  type: 'scatter',
  data: {
    datasets: [
      { label: '1:1-line', type: 'line', data: pts(oneX, oneY), showLine: true, borderColor: '#222', borderWidth: 1.6,
        borderDash: [6, 5], pointRadius: 0, order: 0 },
      { label: 'Kaurene', data: pts(scX, scY), backgroundColor: scP.map(p => jet((p - 0.8) / 0.6)),
        pointRadius: 4.4, pointBorderWidth: 0, borderWidth: 0, order: 1 }
    ]
  },
  options: {
    responsive: false, animation: false, events: [],
    layout: { padding: { top: 65, left: 0, right: 12, bottom: 0 } },
    plugins: { legend: { display: false }, tooltip: { enabled: false } },
    scales: {
      x: hidden({ type: 'linear', min: 0, max: 20, afterFit: s => { s.height = 102; } }),
      y: hidden({ type: 'linear', min: 0, max: 30, afterFit: s => { s.width = 67; } })
    }
  },
  plugins: [decoC]
});
</script>
</body>
</html>
